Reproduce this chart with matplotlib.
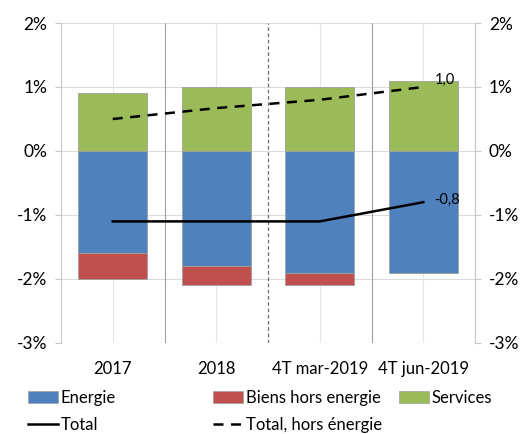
import matplotlib.pyplot as plt
from matplotlib.patches import Patch
from matplotlib.lines import Line2D
from matplotlib.ticker import FuncFormatter

plt.rcParams['font.family'] = ['Lato', 'DejaVu Sans']

categories = ["2017", "2018", "4T mar-2019", "4T jun-2019"]
energie = [-1.6, -1.8, -1.9, -1.9]
biens = [-0.4, -0.3, -0.2, 0.0]
services = [0.9, 1.0, 1.0, 1.1]
total = [-1.1, -1.1, -1.1, -0.8]
total_hors = [0.5, 0.67, 0.8, 1.0]

c_energie = "#4f81bd"
c_biens = "#c0504d"
c_services = "#9bbb59"

fig = plt.figure(figsize=(5.25, 4.34), dpi=100)
ax = fig.add_axes([0.1162, 0.2097, 0.7886, 0.7373])

x = list(range(len(categories)))
w = 0.667
ax.bar(x, energie, w, color=c_energie, edgecolor="#a0a0a0", linewidth=0.6, zorder=3)
ax.bar(x, biens, w, bottom=energie, color=c_biens, edgecolor="#a0a0a0", linewidth=0.6, zorder=3)
ax.bar(x, services, w, color=c_services, edgecolor="#a0a0a0", linewidth=0.6, zorder=3)

ax.plot(x, total, color="black", lw=1.8, zorder=4)
ax.plot(x, total_hors, color="black", lw=1.8, ls=(0, (4, 3)), zorder=4)

ax.annotate("1,0", (x[-1], total_hors[-1]), xytext=(8, 5), textcoords="offset points",
            fontsize=10.5, va="center", ha="left")
ax.annotate("-0,8", (x[-1], total[-1]), xytext=(8, 2), textcoords="offset points",
            fontsize=10.5, va="center", ha="left")

ax.set_xlim(-0.5, 3.5)
ax.set_ylim(-3, 2)
ax.set_yticks([-3, -2, -1, 0, 1, 2])
fmt = FuncFormatter(lambda v, p: f"{v:.0f}%")
ax.yaxis.set_major_formatter(fmt)
ax.set_xticks(x)
ax.set_xticklabels(categories)

# grid
for yv in [-3, -2, -1, 0, 1, 2]:
    ax.axhline(yv, color="#dcdcdc", lw=0.8, zorder=1)
for xv in x:
    ax.axvline(xv, color="#e4e4e4", lw=0.8, zorder=1)
for xv in [0.5, 2.5]:
    ax.axvline(xv, color="#a0a0a0", lw=0.8, zorder=1)
ax.axvline(1.5, color="#707070", lw=0.9, ls=(0, (3, 2)), zorder=1)

for s in ["top", "bottom"]:
    ax.spines[s].set_visible(False)
ax.spines["left"].set_color("#c8c8c8")
ax.spines["right"].set_color("#c8c8c8")
ax.tick_params(axis="x", length=0, labelsize=12, pad=13)
ax.tick_params(axis="y", length=4, color="#c8c8c8", labelsize=12.5, pad=6)

ax2 = ax.twinx()
ax2.set_ylim(-3, 2)
ax2.set_yticks([-3, -2, -1, 0, 1, 2])
ax2.yaxis.set_major_formatter(fmt)
for s in ["top", "bottom", "left"]:
    ax2.spines[s].set_visible(False)
ax2.spines["right"].set_color("#c8c8c8")
ax2.tick_params(axis="y", length=4, color="#c8c8c8", labelsize=12.5, pad=6)

# legend, one column at a time
columns = [
    ([Patch(facecolor=c_energie, edgecolor="#a0a0a0", lw=0.5),
      Line2D([], [], color="black", lw=1.8)], ["Energie", "Total"], 28),
    ([Patch(facecolor=c_biens, edgecolor="#a0a0a0", lw=0.5),
      Line2D([], [], color="black", lw=1.8, ls=(0, (4, 3)))],
     ["Biens hors energie", "Total, hors énergie"], 213),
    ([Patch(facecolor=c_services, edgecolor="#a0a0a0", lw=0.5)], ["Services"], 399),
]
for hs, ls, xpx in columns:
    leg = fig.legend(hs, ls, loc="upper left", bbox_to_anchor=(xpx / 525, 1 - 390 / 434),
                     frameon=False, fontsize=12, handlelength=1.8, handleheight=0.75,
                     handletextpad=0.15, labelspacing=0.65, borderpad=0, borderaxespad=0)

fig.savefig("out.png", dpi=100)
